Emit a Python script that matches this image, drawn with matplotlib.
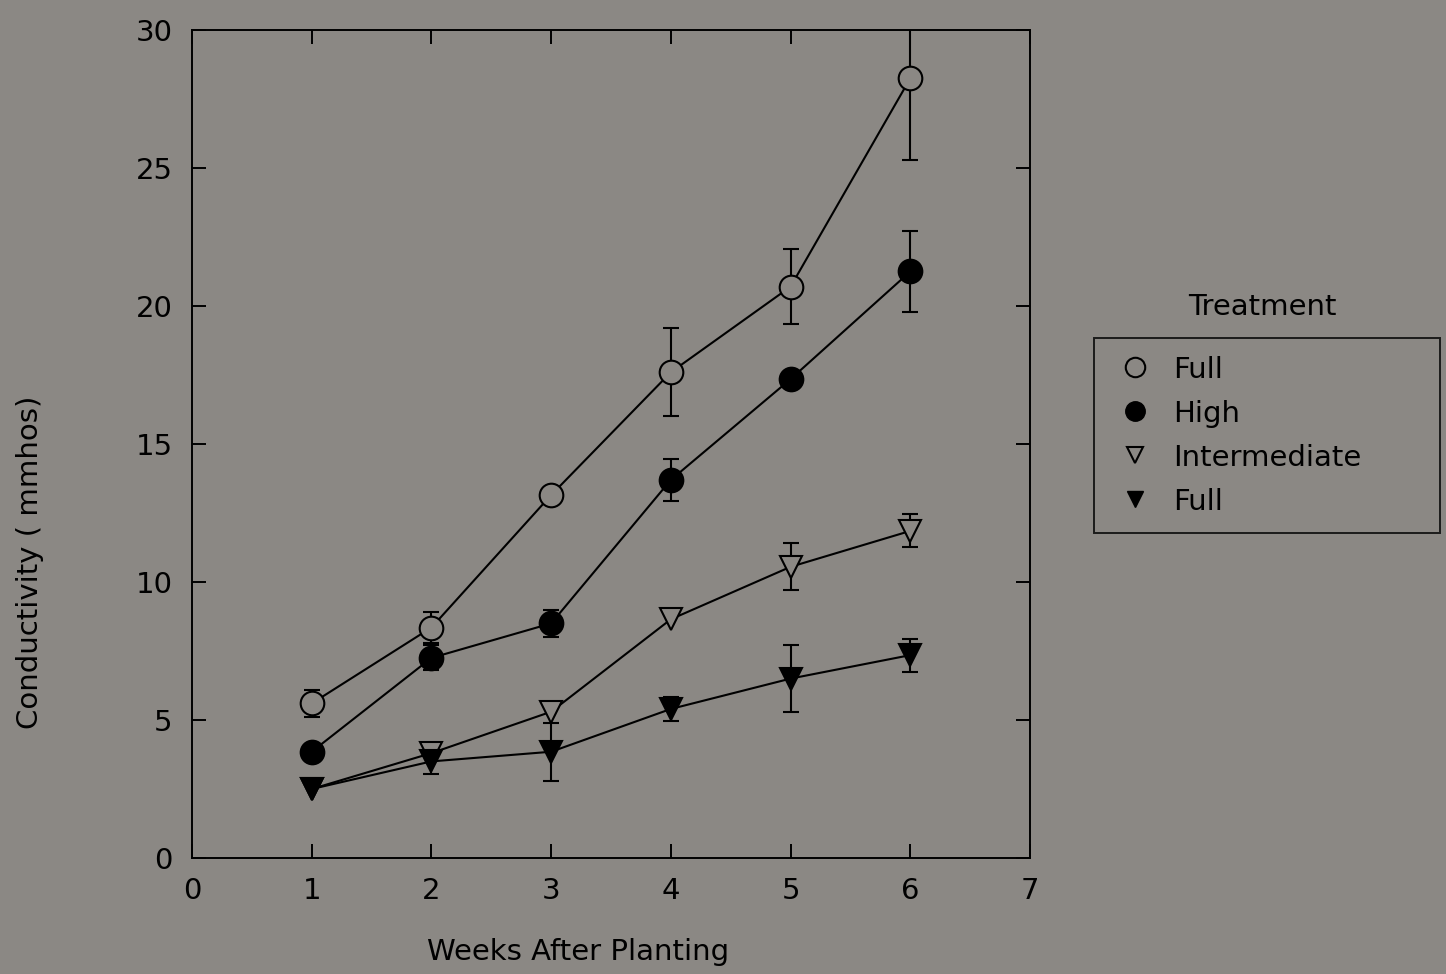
import numpy as np
import matplotlib
matplotlib.use('Agg')
import matplotlib.pyplot as plt
from matplotlib.lines import Line2D

weeks = [1, 2, 3, 4, 5, 6]

full_open = [5.6, 8.35, 13.15, 17.6, 20.7, 28.25]
full_open_err = [0.5, 0.55, 0.0, 1.6, 1.35, 2.95]

high = [3.85, 7.25, 8.5, 13.7, 17.35, 21.25]
high_err = [0.0, 0.45, 0.5, 0.75, 0.0, 1.45]

intermediate = [2.5, 3.8, 5.3, 8.65, 10.55, 11.85]
intermediate_err = [0.0, 0.0, 0.0, 0.0, 0.85, 0.6]

full_filled = [2.5, 3.5, 3.85, 5.4, 6.5, 7.35]
full_filled_err = [0.0, 0.45, 1.05, 0.45, 1.2, 0.6]

legend_labels = ['Full', 'High', 'Intermediate', 'Full']

bg = '#8b8884'
plt.rcParams['font.family'] = ['DejaVu Sans']

fig = plt.figure(figsize=(14.46, 9.74), dpi=100, facecolor=bg)
ax = fig.add_axes([0.1328, 0.1191, 0.5795, 0.8501], facecolor=bg)

series = [
    (full_open, full_open_err, 'o', bg, 17),
    (high, high_err, 'o', 'black', 17),
    (intermediate, intermediate_err, 'v', bg, 16),
    (full_filled, full_filled_err, 'v', 'black', 16),
]

for vals, errs, mk, fc, ms in series:
    x = np.array(weeks)
    y = np.array(vals)
    e = np.array(errs)
    m = e > 0
    ax.errorbar(x[m], y[m], yerr=e[m], fmt='none', ecolor='black',
                elinewidth=1.5, capsize=5.5, capthick=1.5, zorder=2)
    ax.plot(x, y, color='black', lw=1.5, marker=mk, markersize=ms,
            markerfacecolor=fc, markeredgecolor='black', markeredgewidth=1.5,
            zorder=3)

ax.set_xlim(0, 7)
ax.set_ylim(0, 30)
ax.set_xticks(range(0, 8))
ax.set_yticks(range(0, 31, 5))
ax.tick_params(direction='in', length=10, width=1.4, top=True, right=True,
               labelsize=21, pad=14, colors='black')
for s in ax.spines.values():
    s.set_linewidth(1.4)

fig.text(578 / 1446, 1 - 952 / 974, 'Weeks After Planting', fontsize=21,
         ha='center', va='center')
fig.text(30 / 1446, 1 - 562 / 974, 'Conductivity ( mmhos)', rotation=90,
         fontsize=21, ha='center', va='center')
fig.text(1262 / 1446, 1 - 307 / 974, 'Treatment', fontsize=21,
         ha='center', va='center')

handles = [
    Line2D([], [], ls='none', marker='o', ms=14, mfc=bg, mec='black', mew=1.5),
    Line2D([], [], ls='none', marker='o', ms=14, mfc='black', mec='black'),
    Line2D([], [], ls='none', marker='v', ms=12, mfc=bg, mec='black', mew=1.5),
    Line2D([], [], ls='none', marker='v', ms=12, mfc='black', mec='black'),
]
leg = fig.legend(handles, legend_labels, loc='upper left',
                 bbox_to_anchor=(1094 / 1446, 1 - 338 / 974, 346 / 1446, 0.0),
                 mode='expand', fontsize=21, frameon=True,
                 fancybox=False, facecolor=bg, edgecolor='black',
                 handletextpad=0.5, handlelength=1.6, labelspacing=0.55,
                 borderpad=0.6, borderaxespad=0)
leg.get_frame().set_linewidth(1.4)

fig.savefig('out.png', dpi=100, facecolor=bg)
